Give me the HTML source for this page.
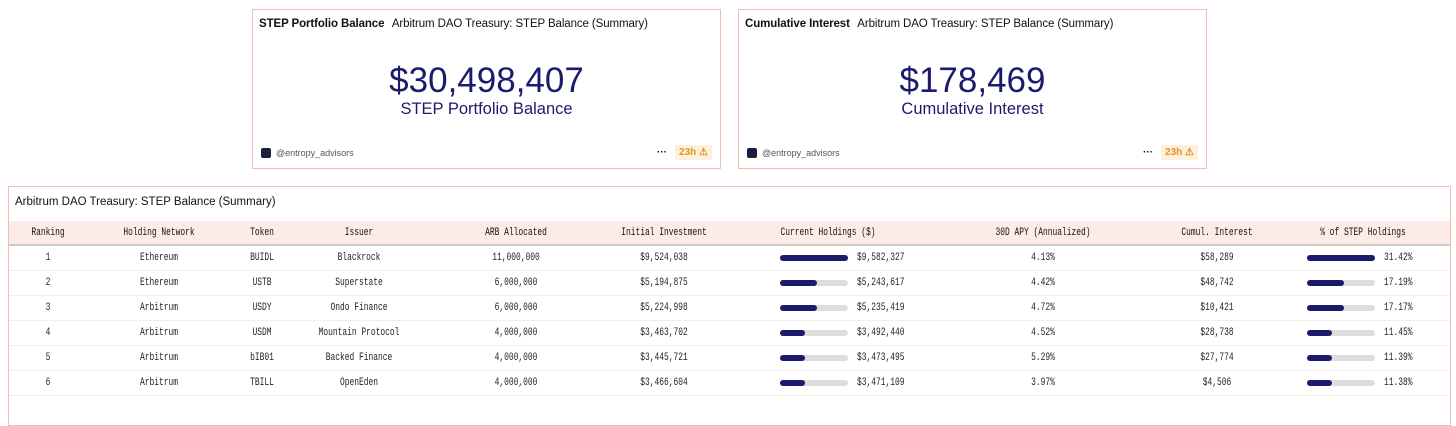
<!DOCTYPE html>
<html><head><meta charset="utf-8">
<style>
*{box-sizing:border-box;margin:0;padding:0}
body{width:1456px;height:422px;background:#fff;position:relative;overflow:hidden;font-family:"Liberation Sans",sans-serif;color:#111}
.card{position:absolute;top:9px;width:469px;height:160px;border:1px solid #f0bfb0;background:#fff}
.ct{position:absolute;left:6px;top:8px;font-size:11.5px;white-space:nowrap;letter-spacing:-0.1px}
.ct b{font-weight:bold;margin-right:5px}
.big{position:absolute;left:0;right:0;top:51px;text-align:center;color:#1c1a6b;font-size:35px;line-height:40px}
.sub{position:absolute;left:0;right:0;top:90px;text-align:center;color:#1c1a6b;font-size:16.5px}
.foot{position:absolute;left:8px;top:138px;font-size:9px;color:#555;display:flex;align-items:center}
.foot i{display:inline-block;width:10px;height:10px;background:#1a1f3d;border-radius:2px;margin-right:5px}
.age{position:absolute;right:8px;top:135px;font-size:10px;display:flex;align-items:center}
.age span.d{margin-right:8px;font-weight:bold}
.age span.t{background:#fdf0dc;color:#e0922a;padding:2px 4px;font-weight:bold}
#panel{position:absolute;left:8px;top:186px;width:1443px;height:240px;border:1px solid #f0bfb0}
#ptitle{position:absolute;left:6px;top:9px;font-size:11.5px}
.row{position:absolute;left:0;width:1441px;height:25px;font-family:"Liberation Mono",monospace;font-size:11px;color:#222}
.hdr{background:#fcebe6;border-bottom:2px solid #ccc;top:34px;color:#111}
.drow{border-bottom:1px solid #f6ece4}
.c{position:absolute;top:0;height:24px;line-height:24px;white-space:nowrap;transform:translateX(-50%) scaleX(0.72)}
.l{position:absolute;top:0;height:24px;line-height:24px;white-space:nowrap;transform:scaleX(0.72);transform-origin:left center}
.bar{position:absolute;top:9px;width:68px;height:6px;border-radius:3px;background:#ddd}
.bar i{position:absolute;left:0;top:0;height:6px;border-radius:3px;background:#1c1a6b}
</style></head><body>
<div class="card" style="left:252px">
 <div class="ct"><b>STEP Portfolio Balance</b> Arbitrum DAO Treasury: STEP Balance (Summary)</div>
 <div class="big">$30,498,407</div>
 <div class="sub">STEP Portfolio Balance</div>
 <div class="foot"><i></i>@entropy_advisors</div>
 <div class="age"><span class="d">···</span><span class="t">23h ⚠</span></div>
</div>
<div class="card" style="left:738px">
 <div class="ct"><b>Cumulative Interest</b> Arbitrum DAO Treasury: STEP Balance (Summary)</div>
 <div class="big">$178,469</div>
 <div class="sub">Cumulative Interest</div>
 <div class="foot"><i></i>@entropy_advisors</div>
 <div class="age"><span class="d">···</span><span class="t">23h ⚠</span></div>
</div>
<div id="panel">
 <div id="ptitle">Arbitrum DAO Treasury: STEP Balance (Summary)</div>
 <div class="row hdr">
  <span class="c" style="left:39px">Ranking</span>
  <span class="c" style="left:150px">Holding Network</span>
  <span class="c" style="left:253px">Token</span>
  <span class="c" style="left:350px">Issuer</span>
  <span class="c" style="left:507px">ARB Allocated</span>
  <span class="c" style="left:655px">Initial Investment</span>
  <span class="c" style="left:819px">Current Holdings ($)</span>
  <span class="c" style="left:1034px">30D APY (Annualized)</span>
  <span class="c" style="left:1208px">Cumul. Interest</span>
  <span class="c" style="left:1354px">% of STEP Holdings</span>
 </div>
 <div id="tb"></div>
</div>
<script>
const networks=["Ethereum","Ethereum","Arbitrum","Arbitrum","Arbitrum","Arbitrum"];
const tokens=["BUIDL","USTB","USDY","USDM","bIB01","TBILL"];
const issuers=["Blackrock","Superstate","Ondo Finance","Mountain Protocol","Backed Finance","OpenEden"];
const arb=[11000000,6000000,6000000,4000000,4000000,4000000];
const initial=[9524038,5194875,5224998,3463702,3445721,3466604];
const holdings=[9582327,5243617,5235419,3492440,3473495,3471109];
const apy=[4.13,4.42,4.72,4.52,5.29,3.97];
const interest=[58289,48742,10421,28738,27774,4506];
const share=[31.42,17.19,17.17,11.45,11.39,11.38];
const fmt=n=>n.toLocaleString('en-US');
const maxH=Math.max(...holdings),maxS=Math.max(...share);
const tb=document.getElementById('tb');
function cell(row,x,text,name){const s=document.createElement('span');s.className='c';s.style.left=x+'px';s.textContent=text;


row.appendChild(s);}
function bar(row,x,v,m,label,name){
 const b=document.createElement('span');b.className='bar';b.style.left=x+'px';
 
 
 const f=document.createElement('i');f.style.width=(68*v/m)+'px';b.appendChild(f);row.appendChild(b);
 const t=document.createElement('span');t.className='l';t.style.left=(x+77)+'px';t.textContent=label;
 
 
 row.appendChild(t);}
for(let i=0;i<tokens.length;i++){
 const r=document.createElement('div');r.className='row drow';r.style.top=(59+i*25)+'px';
 
 
 cell(r,39,String(i+1),'ranking');
 cell(r,150,networks[i],'network');
 cell(r,253,tokens[i],'token');
 cell(r,350,issuers[i],'issuer');
 cell(r,507,fmt(arb[i]),'arb-allocated');
 cell(r,655,'$'+fmt(initial[i]),'initial-investment');
 bar(r,771,holdings[i],maxH,'$'+fmt(holdings[i]),'current-holdings');
 cell(r,1034,apy[i]+'%','apy');
 cell(r,1208,'$'+fmt(interest[i]),'cumulative-interest');
 bar(r,1298,share[i],maxS,share[i].toFixed(2)+'%','share');
 tb.appendChild(r);
}
</script>
</body></html>
